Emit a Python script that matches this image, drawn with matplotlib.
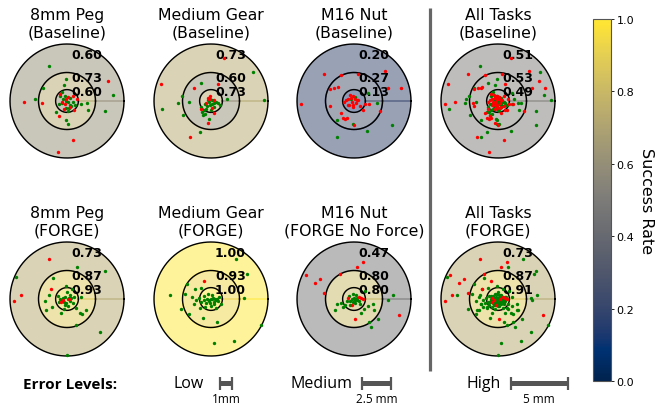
import numpy as np
import matplotlib.pyplot as plt
from matplotlib import colors, cm

# error level radii (mm)
radii = [1, 2.5, 5]

# success rates per error level: high, medium, low
rates_base = {
    "peg": [0.60, 0.73, 0.60],
    "gear": [0.73, 0.60, 0.73],
    "nut": [0.20, 0.27, 0.13],
    "all": [0.51, 0.53, 0.49],
}
rates_forge = {
    "peg": [0.73, 0.87, 0.93],
    "gear": [1.00, 0.93, 1.00],
    "nut": [0.47, 0.80, 0.80],
    "all": [0.73, 0.87, 0.91],
}

titles_base = ["8mm Peg\n(Baseline)", "Medium Gear\n(Baseline)", "M16 Nut\n(Baseline)", "All Tasks\n(Baseline)"]
titles_forge = ["8mm Peg\n(FORGE)", "Medium Gear\n(FORGE)", "M16 Nut\n(FORGE No Force)", "All Tasks\n(FORGE)"]

# trial positions (x, y in mm), success / failure
peg_base_ok = [(-1.60, 3.08), (-0.06, 1.92), (-0.26, 1.42), (-2.09, 1.10), (-2.79, 0.17), (4.07, 0.52),
               (1.74, -0.17), (1.19, -0.26), (3.31, -0.90), (1.83, -0.78), (-0.99, -0.93), (-0.12, -1.63),
               (0.06, -2.00), (-0.58, 0.47), (-0.35, 0.17), (-0.06, 0.03), (0.09, -0.12), (0.23, -0.35),
               (0.38, -0.47), (-0.12, -0.61), (0.09, -0.90), (0.70, -0.35), (-0.47, 0.76), (-0.40, -0.20),
               (0.30, 0.30), (-0.70, -0.30), (0.50, -0.10), (0.15, -0.65), (-0.20, 0.45)]
peg_base_fail = [(3.58, 1.74), (-3.78, -0.12), (-2.15, -0.17), (0.52, -3.43), (-0.81, -4.48), (-0.70, -1.28),
                 (-0.26, -0.70), (0.52, 0.47), (0.87, 0.17), (-0.64, 0.61), (-0.06, 0.17), (0.30, -0.50),
                 (-0.45, -0.05), (0.10, 0.35), (0.60, -0.75), (-0.15, -0.30)]

gear_base_ok = [(3.68, 2.54), (4.62, 0.06), (-4.30, -0.73), (-0.85, 1.61), (-2.57, 0.41), (-2.92, -0.18),
                (-1.93, -0.09), (-2.46, -1.26), (0.82, -0.32), (1.40, 0.20), (-0.94, -2.72), (-0.20, -0.09),
                (0.09, -0.23), (0.29, -0.18), (-0.35, -0.44), (-0.64, -0.82), (-0.70, -1.26), (-0.56, -1.14),
                (-0.20, -1.61), (-0.79, -0.99), (-0.06, 0.20), (-0.41, -0.70), (0.45, -0.05), (0.10, 0.05),
                (-0.30, 0.10), (0.60, -0.20), (-0.10, -0.35), (0.25, -0.50), (-0.50, -0.30), (0.00, -0.80),
                (-0.90, -0.50)]
gear_base_fail = [(1.17, 3.74), (-4.39, 1.52), (-1.52, 1.17), (0.58, 1.52), (-1.87, -3.16), (-0.26, -1.93),
                  (-0.85, -0.73), (0.23, -1.08), (-0.06, 0.41), (-0.20, 0.15), (-0.44, -0.18), (0.10, -0.60),
                  (-0.30, 0.30), (0.30, 0.10)]

nut_base_ok = [(-1.46, -3.13), (1.11, -2.63), (3.36, -2.08), (-0.06, -1.99), (-1.52, -1.70), (2.05, -0.15),
               (1.20, 0.70), (-0.26, 0.20), (0.10, 0.35)]
nut_base_fail = [(-2.60, 2.37), (-1.14, 2.31), (0.32, 2.37), (2.75, 2.60), (-2.11, 1.08), (-1.73, 1.14),
                 (-1.37, 1.23), (3.01, 1.14), (4.09, 1.17), (-4.65, -0.29), (-2.08, -0.44), (0.99, -0.23),
                 (1.35, -0.26), (2.28, -0.88), (0.76, -0.82), (-1.14, -1.05), (-0.94, -1.49), (-0.76, -1.61),
                 (-0.64, -1.49), (0.00, -2.13), (-0.50, 0.20), (-0.29, 0.26), (-0.06, 0.41), (0.09, 0.20),
                 (0.23, 0.12), (0.38, 0.06), (-0.20, -0.09), (-0.41, -0.38), (-0.06, -0.32), (0.15, -0.15),
                 (-0.12, -0.53), (-0.56, -0.35), (-0.73, 0.06), (-0.35, 0.50), (0.50, -0.40), (-0.90, -0.10)]

peg_forge_ok = [(3.31, 2.50), (0.87, 2.82), (-4.48, 1.95), (-1.22, 1.86), (-0.12, 1.13), (0.47, 0.90),
                (-1.60, 0.35), (-1.89, -0.17), (-1.31, -0.67), (-0.49, -1.19), (0.76, -0.76), (1.10, -1.25),
                (1.31, -1.28), (1.69, -0.96), (0.76, -2.27), (2.91, -2.88), (0.03, -4.91), (-0.64, -0.03),
                (-0.35, 0.12), (-0.15, 0.20), (0.09, -0.03), (0.23, -0.18), (-0.06, -0.32), (0.38, 0.12),
                (0.58, 0.20), (-0.20, -0.56), (0.09, -0.61), (-0.70, -0.26), (-1.86, -0.96), (0.00, 0.60),
                (-0.40, -0.10), (0.30, 0.35), (0.50, -0.35), (-0.25, -0.30), (0.15, 0.10), (-0.80, 0.30),
                (1.20, 0.20), (-0.30, -0.90)]
peg_forge_fail = [(-1.57, 3.55), (-4.04, 0.38), (-4.65, -0.17), (-1.42, 0.90), (-0.55, -0.26), (-0.35, -0.09),
                  (0.20, 0.00)]

gear_forge_ok = [(2.19, 3.54), (3.16, 2.16), (-3.57, 0.32), (-2.11, 1.35), (-1.43, 0.91), (-2.31, 0.41),
                 (-0.85, 0.94), (2.87, 0.12), (-2.60, -0.91), (-1.96, -1.35), (-1.52, -0.47), (-0.99, -0.76),
                 (-0.73, -1.64), (0.53, -2.02), (0.47, -0.76), (4.39, -2.31), (0.23, -3.89), (1.99, -3.68),
                 (-1.08, 0.06), (-0.64, -0.12), (-0.20, -0.18), (0.00, -0.03), (0.18, 0.12), (0.38, 0.03),
                 (0.53, -0.03), (-0.06, -0.32), (0.23, -0.26), (0.09, 0.32), (-0.35, 0.03), (0.58, -0.18),
                 (-0.47, -0.38), (0.00, -0.60), (-0.90, -0.30), (0.30, -0.45), (-0.30, 0.40), (0.70, 0.20),
                 (-0.60, 0.30), (0.10, 0.00), (-0.15, -0.05), (0.40, -0.10), (-1.30, -0.10), (-0.50, -0.70),
                 (0.90, -0.40), (-1.70, 0.20)]
gear_forge_fail = [(-0.64, 1.58)]

nut_forge_ok = [(3.39, 0.38), (3.01, -0.09), (1.70, -0.47), (1.78, -0.96), (0.61, -1.26), (2.13, -1.78),
                (1.35, -2.02), (1.46, -2.43), (-1.67, -0.96), (-1.46, -0.47), (-1.14, -0.38), (-0.79, -0.56),
                (-0.35, -0.56), (0.96, 0.70), (-0.20, -0.03), (0.00, 0.12), (0.18, 0.32), (0.29, -0.09),
                (0.09, -0.32), (-0.12, -0.26), (-0.35, -0.18), (0.23, 0.12), (-0.60, -0.20), (0.40, -0.20),
                (-0.05, 0.40), (0.10, -0.10), (-0.40, 0.25), (0.55, -0.45), (-1.00, -0.70), (0.90, -0.90),
                (1.20, -0.60)]
nut_forge_fail = [(0.76, 3.27), (0.23, 2.84), (-1.23, 2.22), (-4.21, 2.11), (-2.98, 1.78), (-3.39, 1.37),
                  (-2.60, 0.56), (3.98, -1.43), (0.12, -1.73), (-0.50, 0.12), (0.58, 0.12), (0.82, -0.03),
                  (0.41, 0.20), (-0.20, -0.55)]

# scale bar legend
err_names = ["Low", "Medium", "High"]
err_mm = [1, 2.5, 5]
err_labels = ["1mm", "2.5 mm", "5 mm"]

W, H = 662, 406
fig = plt.figure(figsize=(W / 100, H / 100), dpi=100)
cmap = plt.get_cmap("cividis")

size = 114  # px, axes box of each target
px_per_mm = size / 2 / radii[-1]
col_x = [67, 211, 354, 498]
row_y = [102, 300]


def draw_target(cx, cy, rates, ok, fail, title):
    ax = fig.add_axes([(cx - size / 2) / W, (H - cy - size / 2) / H, size / W, size / H],
                      projection="polar")
    ax.set_axis_off()
    ax.set_ylim(0, radii[-1])
    # rings: inner disk = low, then medium, outer = high
    bounds = [0] + radii
    ring_rates = rates[::-1]
    for i, rate in enumerate(ring_rates):
        c = cmap(rate)
        ax.bar(0, bounds[i + 1] - bounds[i], width=2 * np.pi, bottom=bounds[i], align="edge",
               color=c, alpha=0.5, edgecolor=c, linewidth=0 if i == 0 else 1.0, zorder=1)
    t = np.linspace(0, 2 * np.pi, 300)
    for r in radii:
        ax.plot(t, np.full_like(t, r), color="black", lw=1.0, zorder=2, clip_on=False)
    for yy, rate in zip([4.05, 2.05, 0.85], rates):
        ax.text(np.arctan2(yy, 1.7), np.hypot(1.7, yy), f"{rate:.2f}", ha="center", va="center",
                fontsize=9, fontweight="bold", zorder=3)
    for pts, col in [(ok, "green"), (fail, "red")]:
        p = np.array(pts)
        ax.scatter(np.arctan2(p[:, 1], p[:, 0]), np.hypot(p[:, 0], p[:, 1]), s=6, c=col,
                   linewidths=0, zorder=4, clip_on=False)
    ax.text(0.5, 1 + 4 / size, title, transform=ax.transAxes, ha="center", va="bottom",
            fontsize=11.3, linespacing=1.25)


base_data = [(peg_base_ok, peg_base_fail), (gear_base_ok, gear_base_fail), (nut_base_ok, nut_base_fail)]
forge_data = [(peg_forge_ok, peg_forge_fail), (gear_forge_ok, gear_forge_fail), (nut_forge_ok, nut_forge_fail)]
base_data.append((sum([d[0] for d in base_data], []), sum([d[1] for d in base_data], [])))
forge_data.append((sum([d[0] for d in forge_data], []), sum([d[1] for d in forge_data], [])))

keys = ["peg", "gear", "nut", "all"]
for j, k in enumerate(keys):
    draw_target(col_x[j], row_y[0], rates_base[k], base_data[j][0], base_data[j][1], titles_base[j])
    draw_target(col_x[j], row_y[1], rates_forge[k], forge_data[j][0], forge_data[j][1], titles_forge[j])

# overlay in pixel coordinates for separator and legend
ov = fig.add_axes([0, 0, 1, 1], zorder=-1)
ov.set_xlim(0, W)
ov.set_ylim(H, 0)
ov.axis("off")
ov.plot([430, 430], [9, 372], color="#666666", lw=2.3, solid_capstyle="butt")

lfont = "Open Sans"
ov.text(70, 385, "Error Levels:", fontsize=11, fontweight="bold", family=lfont, ha="center", va="center")
name_x = [189, 321, 483.5]
bar_cx = [226, 376.5, 539]
for nm, mm, lab, nx, bx in zip(err_names, err_mm, err_labels, name_x, bar_cx):
    L = mm * px_per_mm
    ov.text(nx, 384, nm, fontsize=11.5, family=lfont, ha="center", va="center")
    ov.plot([bx - L / 2, bx + L / 2], [384, 384], color="#555555", lw=3.6, solid_capstyle="butt")
    for ex in [bx - L / 2, bx + L / 2]:
        ov.plot([ex, ex], [378, 391], color="#555555", lw=1.6, solid_capstyle="butt")
    ov.text(bx, 400, lab, fontsize=8.5, family=lfont, ha="center", va="center")

# colorbar
cax = fig.add_axes([593 / W, (H - 382) / H, 18 / W, 362 / H])
sm = cm.ScalarMappable(norm=colors.Normalize(0, 1), cmap=cmap)
cb = fig.colorbar(sm, cax=cax, ticks=[0, 0.2, 0.4, 0.6, 0.8, 1.0])
cb.ax.tick_params(labelsize=8, length=2.5, width=0.6, pad=1.5)
cb.outline.set_edgecolor("#555555")
cb.outline.set_linewidth(0.8)
cb.set_label("Success Rate", rotation=270, fontsize=11.5, labelpad=14)

fig.savefig("out.png", dpi=100)
